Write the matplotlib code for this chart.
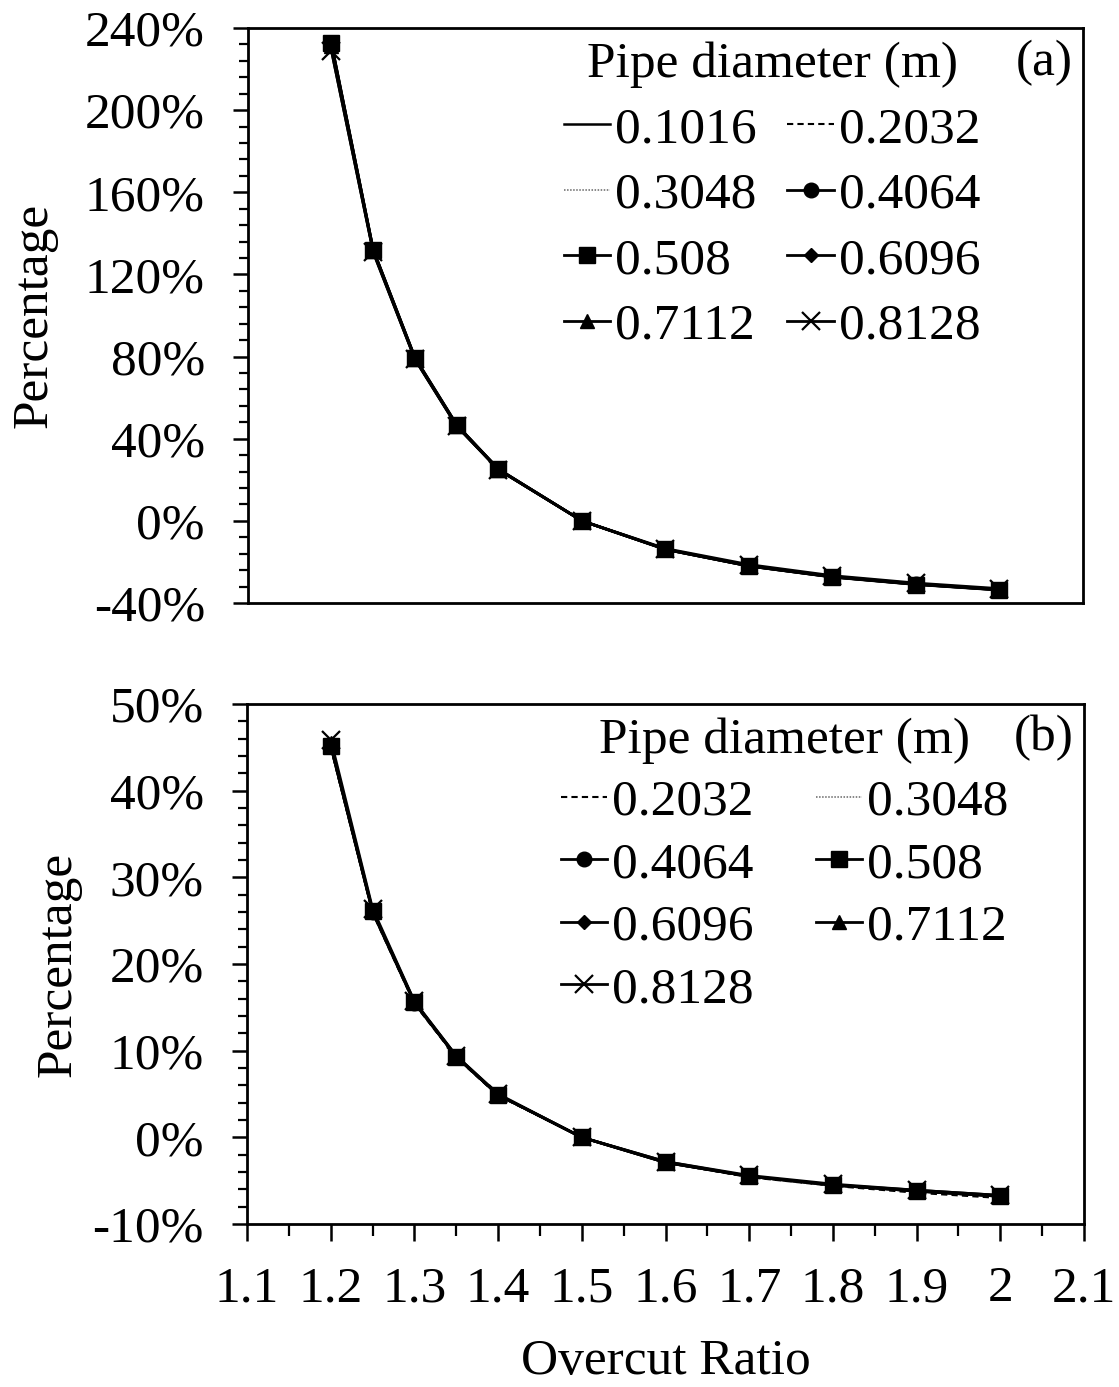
import matplotlib
matplotlib.use("Agg")
import matplotlib.pyplot as plt
from matplotlib.ticker import MultipleLocator, FuncFormatter

plt.rcParams['font.family'] = ['Liberation Serif', 'DejaVu Serif']
plt.rcParams['axes.unicode_minus'] = False

# ---------------- data ----------------
overcut_ratio = [1.2, 1.25, 1.3, 1.35, 1.4, 1.5, 1.6, 1.7, 1.8, 1.9, 2.0]

diameters_a = ["0.1016", "0.2032", "0.3048", "0.4064", "0.508", "0.6096", "0.7112", "0.8128"]
a_0_1016 = [228.5, 130.5, 78.5, 46.0, 24.8, 0.0, -13.7, -21.7, -27.0, -30.6, -33.3]
a_0_2032 = [230.0, 131.0, 78.8, 46.2, 24.9, 0.0, -13.8, -21.8, -27.1, -30.7, -33.4]
a_0_3048 = [231.0, 131.5, 79.0, 46.4, 25.0, 0.0, -13.8, -21.9, -27.2, -30.8, -33.5]
a_0_4064 = [232.0, 132.0, 79.3, 46.6, 25.1, 0.0, -13.9, -22.0, -27.3, -30.9, -33.6]
a_0_508 = [232.5, 132.0, 79.5, 46.8, 25.2, 0.0, -13.9, -22.0, -27.4, -31.0, -33.7]
a_0_6096 = [232.0, 131.8, 79.3, 46.6, 25.1, 0.0, -13.9, -22.0, -27.3, -30.9, -33.6]
a_0_7112 = [231.0, 131.5, 79.0, 46.4, 25.0, 0.0, -13.8, -21.9, -27.2, -30.8, -33.5]
a_0_8128 = [229.0, 131.0, 78.7, 46.2, 24.9, 0.0, -13.5, -21.3, -26.7, -30.3, -33.0]
series_a = [a_0_1016, a_0_2032, a_0_3048, a_0_4064, a_0_508, a_0_6096, a_0_7112, a_0_8128]

diameters_b = ["0.2032", "0.3048", "0.4064", "0.508", "0.6096", "0.7112", "0.8128"]
b_0_2032 = [45.0, 25.9, 15.4, 9.2, 4.8, 0.0, -2.9, -4.6, -5.6, -6.4, -7.0]
b_0_3048 = [45.1, 26.0, 15.5, 9.3, 4.9, 0.0, -2.9, -4.5, -5.5, -6.2, -6.8]
b_0_4064 = [45.2, 26.0, 15.5, 9.3, 4.9, 0.0, -2.9, -4.5, -5.5, -6.2, -6.8]
b_0_508 = [45.2, 26.1, 15.6, 9.3, 4.9, 0.0, -2.9, -4.5, -5.5, -6.2, -6.8]
b_0_6096 = [45.3, 26.1, 15.6, 9.3, 4.9, 0.0, -2.9, -4.5, -5.5, -6.2, -6.8]
b_0_7112 = [45.5, 26.2, 15.6, 9.4, 4.9, 0.0, -2.8, -4.5, -5.5, -6.1, -6.7]
b_0_8128 = [45.9, 26.4, 15.7, 9.4, 5.0, 0.0, -2.8, -4.4, -5.4, -6.1, -6.7]
series_b = [b_0_2032, b_0_3048, b_0_4064, b_0_508, b_0_6096, b_0_7112, b_0_8128]

# ---------------- styles ----------------
styles = {
    "0.1016": dict(color='black', lw=1.8, ls='-', marker=None),
    "0.2032": dict(color='black', lw=1.5, ls=(0, (3, 2)), marker=None),
    "0.3048": dict(color='#666666', lw=1.1, ls=(0, (1, 1)), marker=None),
    "0.4064": dict(color='black', lw=2.0, ls='-', marker='o', ms=10.5, mfc='black', mec='black'),
    "0.508": dict(color='black', lw=2.0, ls='-', marker='s', ms=11.5, mfc='black', mec='black'),
    "0.6096": dict(color='black', lw=2.0, ls='-', marker='D', ms=7, mfc='black', mec='black'),
    "0.7112": dict(color='black', lw=2.0, ls='-', marker='^', ms=10.5, mfc='black', mec='black'),
    "0.8128": dict(color='black', lw=2.0, ls='-', marker='x', ms=12.5, mew=1.6, mec='black'),
}

FS = 37
W, H = 1119, 1387
fig = plt.figure(figsize=(W / 100, H / 100), dpi=100)

def px_axes(l, r, t, b):
    return fig.add_axes([l / W, 1 - b / H, (r - l) / W, (b - t) / H])

ax1 = px_axes(248, 1083, 28, 603)
ax2 = px_axes(247, 1084, 704, 1224)

pct = FuncFormatter(lambda v, p: "%d%%" % round(v))
xfmt = FuncFormatter(lambda v, p: ("%.1f" % v).rstrip('0').rstrip('.'))

def style_axes(ax, labelpad):
    for s in ax.spines.values():
        s.set_linewidth(2.0)
        s.set_color('black')
    ax.set_xlim(1.1, 2.1)
    ax.yaxis.set_major_formatter(pct)
    ax.tick_params(axis='y', which='major', direction='out', length=11, width=1.8,
                   labelsize=FS, pad=20)
    ax.tick_params(axis='y', which='minor', direction='out', length=6.5, width=1.6)
    ax.set_ylabel("Percentage", fontsize=FS, labelpad=labelpad)

def plot_panel(ax, names, data):
    handles = []
    for name, vals in zip(names, data):
        st = dict(styles[name])
        ln, = ax.plot(overcut_ratio, vals, label=name, **st)
        handles.append(ln)
    return handles

# ---- panel (a)
h1 = plot_panel(ax1, diameters_a, series_a)
style_axes(ax1, 20)
ax1.set_ylim(-40, 240)
ax1.yaxis.set_major_locator(MultipleLocator(40))
ax1.yaxis.set_minor_locator(MultipleLocator(8))
ax1.tick_params(axis='x', which='both', bottom=False, labelbottom=False)
order_a = [0, 2, 4, 6, 1, 3, 5, 7]
leg1 = ax1.legend([h1[i] for i in order_a], [diameters_a[i] for i in order_a],
                  ncol=2, loc='upper left', bbox_to_anchor=(0.378, 0.977),
                  frameon=False, fontsize=FS, title="Pipe diameter (m)",
                  title_fontsize=FS, borderpad=0, borderaxespad=0,
                  handlelength=0.9, handletextpad=0.1, columnspacing=0.6,
                  labelspacing=0.36)
ax1.text(0.988, 0.94, "(a)", transform=ax1.transAxes, ha='right', va='center',
         fontsize=FS)

# ---- panel (b)
h2 = plot_panel(ax2, diameters_b, series_b)
style_axes(ax2, 8)
ax2.set_ylim(-10, 50)
ax2.yaxis.set_major_locator(MultipleLocator(10))
ax2.yaxis.set_minor_locator(MultipleLocator(2))
ax2.xaxis.set_major_locator(MultipleLocator(0.1))
ax2.xaxis.set_minor_locator(MultipleLocator(0.05))
ax2.xaxis.set_major_formatter(xfmt)
ax2.tick_params(axis='x', which='major', direction='out', length=12, width=1.8,
                labelsize=FS, pad=18)
ax2.tick_params(axis='x', which='minor', direction='out', length=8.5, width=1.6)
ax2.set_xlabel("Overcut Ratio", fontsize=FS, labelpad=19)
order_b = [0, 2, 4, 6, 1, 3, 5]
leg2 = ax2.legend([h2[i] for i in order_b], [diameters_b[i] for i in order_b],
                  ncol=2, loc='upper left', bbox_to_anchor=(0.375, 0.975),
                  frameon=False, fontsize=FS, title="Pipe diameter (m)",
                  title_fontsize=FS, borderpad=0, borderaxespad=0,
                  handlelength=0.9, handletextpad=0.1, columnspacing=1.2,
                  labelspacing=0.3)
ax2.text(0.988, 0.935, "(b)", transform=ax2.transAxes, ha='right', va='center',
         fontsize=FS)

fig.savefig("out.png", dpi=100)
